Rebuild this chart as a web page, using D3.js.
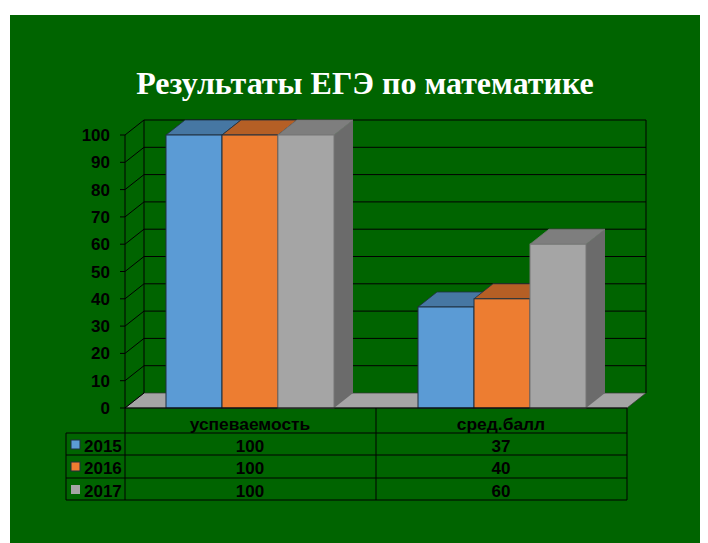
<!DOCTYPE html>
<html><head><meta charset="utf-8">
<script src="https://cdn.jsdelivr.net/npm/d3@7"></script>
<style>html,body{margin:0;padding:0;background:#fff}svg{display:block}
text{font-family:"Liberation Sans",sans-serif;font-weight:bold;fill:#000}</style></head>
<body><svg id="c" width="708" height="543"></svg>
<script>
const categories=["успеваемость","сред.балл"];
const seriesNames=["2015","2016","2017"];
const values2015=[100,37];
const values2016=[100,40];
const values2017=[100,60];
const yTicks=[0,10,20,30,40,50,60,70,80,90,100];
const titleText="Результаты ЕГЭ по математике";
const fills=["#5b9bd5","#ed7d31","#a5a5a5"];
const tops=["#4677a3","#b55f25","#7e7e7e"];
const sides=["#3d6a94","#a05420","#6b6b6b"];
const allValues=[values2015,values2016,values2017];

const svg=d3.select("#c");
const dx=19,dy=-15;
const y=d3.scaleLinear().domain([0,100]).range([408,135]);
const x0=d3.scaleBand().domain(categories).range([125,627]);
const x1=d3.scaleBand().domain(seriesNames).range([41,209]);
const pts=a=>a.map(p=>p.join(",")).join(" ");
const barShift=[0,1];

svg.append("rect").attr("x",10).attr("y",15).attr("width",690).attr("height",528).attr("fill","#006400");
svg.append("text").attr("x",365).attr("y",94).attr("text-anchor","middle")
  .style("font-family","'Liberation Serif',serif").style("font-size","32px").style("fill","#fff").text(titleText);

// floor
const [xl,xr]=x0.range();
svg.append("polygon").attr("points",pts([[xl,y(0)],[xl+dx,y(0)+dy],[xr+dx,y(0)+dy],[xr,y(0)]]))
  .attr("fill","#a5a5a5").attr("stroke","#333").attr("stroke-width",0.7);
// gridlines
yTicks.forEach(t=>{
  const g=y(t);
  if(t>0) svg.append("line").attr("x1",xl+dx).attr("x2",xr+dx).attr("y1",g+dy).attr("y2",g+dy).attr("stroke","#000").attr("stroke-width",1);
  svg.append("line").attr("x1",xl).attr("x2",xl+dx).attr("y1",g).attr("y2",g+dy).attr("stroke","#000").attr("stroke-width",1);
  svg.append("line").attr("x1",xl-5).attr("x2",xl).attr("y1",g).attr("y2",g).attr("stroke","#000").attr("stroke-width",1);
  svg.append("text").attr("x",xl-15).attr("y",g+6).attr("text-anchor","end").style("font-size","17px").text(t);
});
[[xl,y(0),xl,y(100)],[xl+dx,y(0)+dy,xl+dx,y(100)+dy],[xr+dx,y(0)+dy,xr+dx,y(100)+dy]].forEach(l=>
  svg.append("line").attr("x1",l[0]).attr("y1",l[1]).attr("x2",l[2]).attr("y2",l[3]).attr("stroke","#000").attr("stroke-width",1));

// bars
categories.forEach((c,ci)=>{
  seriesNames.forEach((s,si)=>{
    const v=allValues[si][ci];
    const xa=x0(c)+x1(s)+barShift[ci],w=x1.bandwidth(),yt=y(v),yb=y(0);
    const st=si==2?"#777":"#1f2f3f";
    svg.append("polygon").attr("points",pts([[xa+w,yt],[xa+w+dx,yt+dy],[xa+w+dx,yb+dy],[xa+w,yb]]))
      .attr("fill",sides[si]);
    svg.append("polygon").attr("points",pts([[xa,yt],[xa+dx,yt+dy],[xa+w+dx,yt+dy],[xa+w,yt]]))
      .attr("fill",tops[si]).attr("stroke",st).attr("stroke-width",0.8);
    svg.append("rect").attr("x",xa).attr("y",yt).attr("width",w).attr("height",yb-yt)
      .attr("fill",fills[si]).attr("stroke",st).attr("stroke-width",1);
  });
});

// data table
const rows=[408,433,455,478,500];
const line=(a,b,c,d)=>svg.append("line").attr("x1",a).attr("y1",b).attr("x2",c).attr("y2",d).attr("stroke","#000").attr("stroke-width",1);
line(xl,408,xr,408);
rows.slice(1).forEach(r=>line(66,r,xr,r));
line(66,433,66,500);line(xl,408,xl,500);line(x0(categories[1]),408,x0(categories[1]),500);line(xr,408,xr,500);
categories.forEach(c=>{
  const cx=x0(c)+x0.bandwidth()/2-0.5;
  svg.append("text").attr("x",cx).attr("y",430).attr("text-anchor","middle").style("font-size","17.4px").text(c);
  seriesNames.forEach((s,si)=>{
    svg.append("text").attr("x",cx).attr("y",rows[si+1]+19).attr("text-anchor","middle").style("font-size","17px").text(allValues[si][categories.indexOf(c)]);
  });
});
seriesNames.forEach((s,si)=>{
  svg.append("rect").attr("x",71).attr("y",rows[si+1]+7).attr("width",9).attr("height",9)
    .attr("fill",fills[si]).attr("stroke",si==2?"none":"#1f2f3f");
  svg.append("text").attr("x",84).attr("y",rows[si+1]+19).style("font-size","17px").text(s);
});
</script></body></html>
